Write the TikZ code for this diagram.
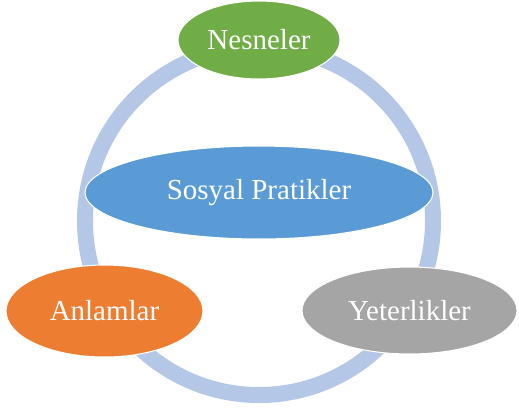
\documentclass[tikz,border=0pt]{standalone}
\usepackage{fontspec}
\setmainfont{Liberation Serif}
\usetikzlibrary{shapes.geometric}
\definecolor{ringblue}{HTML}{B4C7E7}
\definecolor{nodegreen}{HTML}{70AD47}
\definecolor{nodeblue}{HTML}{5B9BD5}
\definecolor{nodeorange}{HTML}{ED7D31}
\definecolor{nodegray}{HTML}{A5A5A5}
\tikzset{
  bubble/.style={ellipse, draw=white, line width=0.6pt, inner sep=0pt,
    text=white, font=\fontsize{16.5}{19}\selectfont},
}
\begin{document}
\begin{tikzpicture}[x=0.02cm, y=-0.02cm]
  \useasboundingbox (0,0) rectangle (519,410);
  % background ring of the cycle
  \coordinate (hub) at (259,221);
  \draw[ringblue, line width=16*0.02cm] (hub) circle[radius=174*0.02cm];
  % the four elements
  \node[bubble, fill=nodegreen, minimum width=3.24cm, minimum height=1.56cm]
    (nes) at (259,40) {Nesneler};
  \node[bubble, fill=nodeblue, minimum width=6.96cm, minimum height=1.86cm]
    (sos) at (259,192.5) {Sosyal Pratikler};
  \node[bubble, fill=nodeorange, minimum width=3.94cm, minimum height=1.84cm]
    (anl) at (104.5,311) {Anlamlar};
  \node[bubble, fill=nodegray, minimum width=4.3cm, minimum height=1.74cm]
    (yet) at (409.5,310.5) {Yeterlikler};
\end{tikzpicture}
\end{document}
